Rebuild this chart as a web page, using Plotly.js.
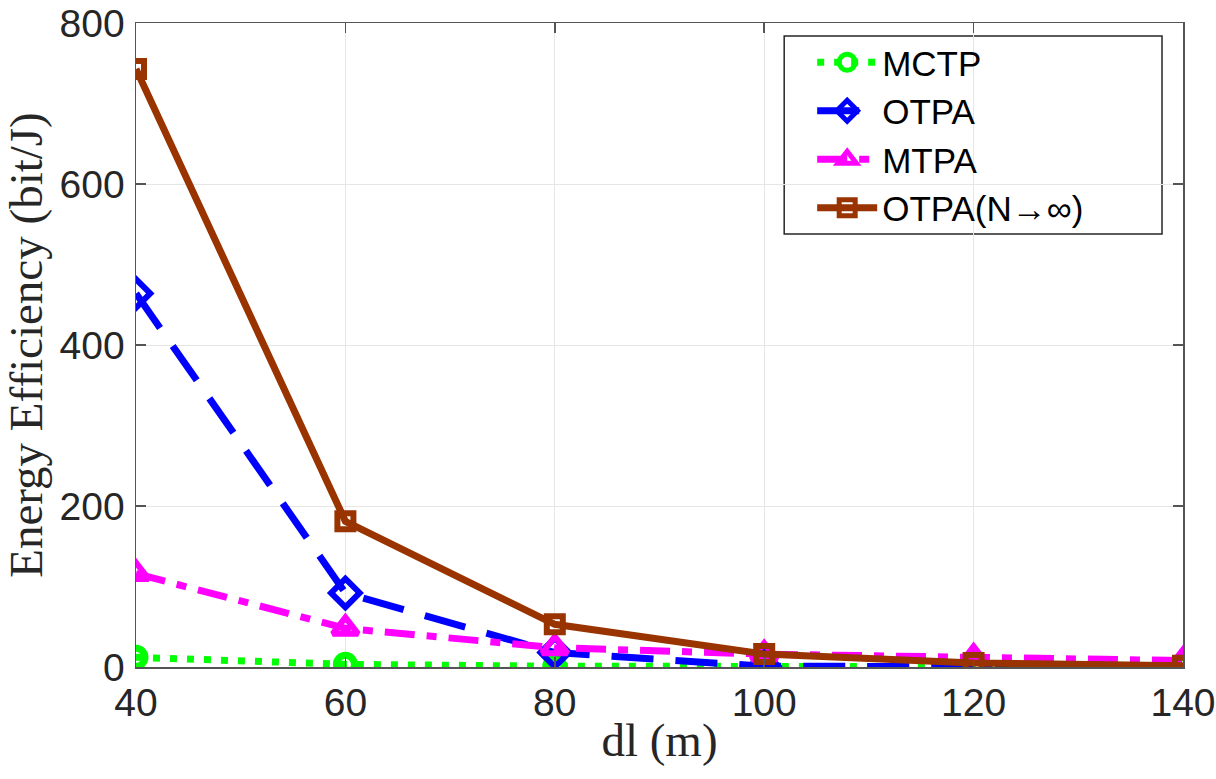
<!DOCTYPE html>
<html><head><meta charset="utf-8">
<script src="https://cdn.plot.ly/plotly-3.0.1.min.js"></script>
<style>body{margin:0;background:#fff}#chart{width:1216px;height:779px}</style>
</head><body><div id="chart"></div>
<script>
const dl = [40, 60, 80, 100, 120, 140];
const mctp = [12, 3.3, 1, 0.5, 0.3, 0.2];
const otpa = [464, 92, 18, 1, 0.5, 0.3];
const mtpa = [116, 48, 24, 16, 12, 8];
const otpaInf = [743, 181, 53, 16, 5, 1.5];
const names = ['MCTP', 'OTPA', 'MTPA', 'OTPA(N\u2192\u221e)'];
const xTicks = [40, 60, 80, 100, 120, 140];
const yTicks = [0, 200, 400, 600, 800];

const traces = [
  {x: dl, y: mctp, name: names[0], mode: 'lines+markers',
   line: {color: '#00ff00', width: 7, dash: '7px,10px'},
   marker: {symbol: 'circle-open', size: 18, color: '#00ff00', line: {width: 7, color: '#00ff00'}}},
  {x: dl, y: otpa, name: names[1], mode: 'lines+markers',
   line: {color: '#0000ff', width: 7, dash: '42px,22px'},
   marker: {symbol: 'diamond-open', size: 22, color: '#0000ff', line: {width: 6, color: '#0000ff'}}},
  {x: dl, y: mtpa, name: names[2], mode: 'lines+markers',
   line: {color: '#ff00ff', width: 7, dash: '30px,12px,10px,12px'},
   marker: {symbol: 'triangle-up-open', size: 22, color: '#ff00ff', line: {width: 6, color: '#ff00ff'}}},
  {x: dl, y: otpaInf, name: names[3], mode: 'lines+markers',
   line: {color: '#993300', width: 7},
   marker: {symbol: 'square-open', size: 16, color: '#993300', line: {width: 6, color: '#993300'}}}
];

const axisCommon = {
  showgrid: true, gridcolor: '#e6e6e6', gridwidth: 1,
  showline: true, linecolor: '#555555', linewidth: 1.5, mirror: 'ticks',
  ticks: 'inside', ticklen: 10, tickcolor: '#555555', tickwidth: 1.5,
  zeroline: false, ticklabeloverflow: 'allow',
  tickfont: {family: 'Liberation Sans, Arial, sans-serif', size: 39, color: '#262626'}
};
const titleFont = {family: 'Liberation Serif, Times New Roman, serif', size: 47, color: '#262626'};

const T = 23, B = 112.3, L = 135.5, R = 33;
const H = 779 - T - B, W = 1216 - L - R;

const layout = {
  width: 1216, height: 779,
  margin: {l: L, r: R, t: T, b: B},
  paper_bgcolor: '#fff', plot_bgcolor: '#fff',
  font: {family: 'Liberation Sans, Arial, sans-serif', color: '#262626', size: 30},
  xaxis: Object.assign({}, axisCommon, {
    range: [40, 140], tickvals: xTicks, ticklabelstandoff: 1,
    title: {text: 'dl (m)', font: titleFont, standoff: 0}
  }),
  yaxis: Object.assign({}, axisCommon, {
    range: [0, 800], tickvals: yTicks, ticklabelstandoff: 2,
    title: {text: 'Energy Efficiency (bit/J)', font: titleFont, standoff: 18}
  }),
  shapes: [{
    type: 'rect', xref: 'paper', yref: 'paper', layer: 'between',
    x0: (784 - L) / W, x1: (1162 - L) / W,
    y0: (779 - B - 234) / H, y1: (779 - B - 36) / H,
    fillcolor: '#ffffff', line: {color: '#262626', width: 1.5}
  }],
  legend: {
    x: (812 - L) / W, y: (779 - B - 33) / H, xanchor: 'left', yanchor: 'top',
    bgcolor: 'rgba(0,0,0,0)', borderwidth: 0,
    font: {family: 'Liberation Sans, Arial, sans-serif', size: 35, color: '#000'},
    itemwidth: 60, tracegroupgap: 0
  },
  showlegend: true
};

Plotly.newPlot('chart', traces, layout, {displayModeBar: false, staticPlot: true});
</script></body></html>
